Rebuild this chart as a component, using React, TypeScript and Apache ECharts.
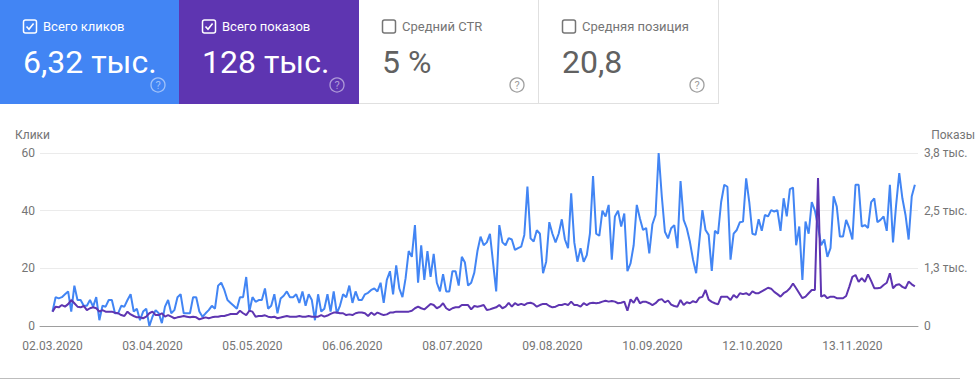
import React, { useEffect, useRef } from "react";
import * as echarts from "echarts";

const tickLabels = ["02.03.2020", "03.04.2020", "05.05.2020", "06.06.2020", "08.07.2020", "09.08.2020", "10.09.2020", "12.10.2020", "13.11.2020"];

// daily clicks from 02.03.2020
const clicks = [
  5, 10, 9.6, 10, 11, 12, 5, 14, 9, 9,
  7, 7, 9, 6.7, 10, 2, 7, 6.7, 9, 9,
  4.4, 4.4, 7, 6.7, 9, 11, 5, 6, 2, 5,
  6, 0, 3.2, 5.5, 4.4, 1, 6.7, 9, 4.4, 5.5,
  10, 11, 4.4, 4.4, 4.4, 10, 10, 5, 3.2, 4.4,
  5.5, 7, 6, 14, 15, 12.5, 9, 8, 7, 6,
  10, 10, 17, 5, 10, 8.4, 9, 9, 13, 6,
  7, 11, 4.4, 9.5, 10.5, 12, 10, 10, 11, 8,
  12, 7, 11, 9, 2, 11, 5, 6, 11, 5,
  12, 4.4, 7, 11, 10, 14, 8, 12, 9, 9,
  11, 11.5, 12.5, 13, 12, 15, 8, 16, 19, 11,
  21, 13, 10, 16.5, 26, 24, 35, 15, 28, 16,
  26, 17, 25, 15, 12, 18, 12, 12, 19, 19,
  14, 24, 22, 14, 15, 18.5, 26, 31, 28, 29,
  32, 22, 12, 35, 29, 28, 30.5, 30, 26.4, 27,
  27.5, 31.6, 48.4, 30.4, 29.3, 33.2, 32, 18.3, 22.3, 36,
  32, 29, 32, 37, 30, 27, 46, 29, 22.3, 27,
  22.3, 24.6, 32, 52, 32, 31.3, 40, 38, 42, 23,
  38, 40, 34.5, 39, 19, 21.7, 28, 42, 37.3, 33.3,
  34, 25.2, 35.3, 38.5, 60, 45, 32.7, 30.4, 33.9, 35,
  27, 50.3, 36.8, 33.9, 29.2, 23, 18.3, 29.2, 40.2, 33.3,
  31.6, 19.1, 33, 32, 43, 49, 48.3, 23, 32, 33.3,
  36, 36.2, 51.2, 43, 32, 31.6, 37, 33, 38.5, 38,
  40.2, 39.7, 40.2, 33, 44.3, 38, 47.5, 48, 28, 34.5,
  16, 36.2, 32, 43, 40, 34.5, 28, 30, 24, 27,
  45, 41.4, 31, 31, 36.8, 34, 30, 49, 49, 34.5,
  35, 34, 43, 44.3, 36, 36.8, 38, 33, 49, 29,
  42, 53, 44.3, 38.5, 30, 45, 49,
];

// daily impressions from 02.03.2020
const impressions = [
  315, 425, 410, 460, 425, 480, 570, 500, 425, 410,
  440, 350, 390, 410, 390, 315, 350, 315, 315, 315,
  290, 280, 240, 220, 315, 255, 220, 190, 190, 170,
  205, 280, 315, 240, 240, 280, 205, 240, 205, 170,
  190, 205, 220, 205, 190, 205, 190, 145, 170, 190,
  170, 190, 205, 205, 220, 220, 240, 265, 265, 265,
  335, 280, 240, 335, 315, 205, 220, 220, 235, 205,
  190, 205, 170, 185, 205, 220, 205, 205, 205, 220,
  205, 205, 220, 205, 205, 205, 240, 205, 230, 265,
  295, 295, 280, 280, 240, 255, 240, 280, 295, 295,
  280, 220, 295, 240, 295, 265, 240, 255, 295, 295,
  315, 315, 315, 315, 315, 335, 390, 425, 390, 365,
  425, 485, 460, 390, 425, 500, 390, 350, 390, 410,
  410, 460, 460, 460, 365, 440, 425, 440, 460, 350,
  365, 390, 410, 460, 390, 425, 510, 425, 500, 460,
  485, 460, 500, 510, 485, 425, 460, 485, 485, 440,
  410, 425, 460, 460, 485, 460, 535, 460, 460, 425,
  500, 460, 500, 510, 500, 510, 535, 555, 535, 550,
  535, 500, 510, 535, 335, 585, 510, 630, 500, 535,
  530, 500, 460, 500, 570, 590, 520, 560, 470, 440,
  425, 570, 460, 520, 500, 545, 520, 620, 640, 790,
  580, 530, 500, 475, 645, 645, 640, 570, 680, 620,
  720, 700, 720, 680, 760, 720, 720, 760, 800, 840,
  820, 750, 700, 645, 720, 760, 830, 935, 830, 720,
  610, 645, 720, 790, 790, 3250, 645, 680, 610, 645,
  645, 610, 610, 610, 660, 860, 1080, 1120, 970, 1050,
  970, 1135, 990, 830, 830, 840, 900, 950, 1160, 830,
  900, 915, 860, 830, 975, 915, 870,
];

const cardTitles = ["Всего кликов", "Всего показов", "Средний CTR", "Средняя позиция"];
const cardValues = ["6,32 тыс.", "128 тыс.", "5 %", "20,8"];
const cardChecked = [true, true, false, false];
const cardColors = ["#4285f4", "#5e35b1", "#ffffff", "#ffffff"];

const leftAxisName = "Клики";
const rightAxisName = "Показы";

const LEAD_PAD = 4; // days before 02.03.2020 on the axis
const TRAIL_PAD = 1;

function pad2(n: number) {
  return n < 10 ? "0" + n : String(n);
}

function buildDates(count: number): string[] {
  const base = Date.UTC(2020, 2, 2) - LEAD_PAD * 86400000;
  const out: string[] = [];
  for (let i = 0; i < count; i++) {
    const d = new Date(base + i * 86400000);
    out.push(pad2(d.getUTCDate()) + "." + pad2(d.getUTCMonth() + 1) + "." + d.getUTCFullYear());
  }
  return out;
}

function fmtThousands(v: number) {
  if (v === 0) return "0";
  return (v / 1000).toFixed(1).replace(".", ",") + " тыс.";
}

const FONT = "Roboto, 'Noto Sans', sans-serif";

function buildCards(): any[] {
  const els: any[] = [];
  const xs = [0, 179, 359, 539];
  const widths = [179, 180, 180, 180];
  cardTitles.forEach((title, i) => {
    const x0 = xs[i];
    const colored = cardColors[i] !== "#ffffff";
    els.push({
      type: "rect",
      shape: { x: x0, y: 0, width: widths[i], height: 104 },
      style: { fill: cardColors[i] },
      silent: true,
    });
    const ink = colored ? "#ffffff" : "#757575";
    els.push({
      type: "rect",
      shape: { x: x0 + 23.5, y: 20, width: 13, height: 13, r: 2 },
      style: { fill: "none", stroke: ink, lineWidth: 1.5 },
      silent: true,
    });
    if (cardChecked[i]) {
      els.push({
        type: "polyline",
        shape: { points: [[x0 + 26.5, 26.5], [x0 + 29, 29.2], [x0 + 33.6, 23.6]] },
        style: { fill: "none", stroke: ink, lineWidth: 1.6 },
        silent: true,
      });
    }
    els.push({
      type: "text",
      x: x0 + 43,
      y: 26.5,
      style: {
        text: title,
        fill: ink,
        fontSize: 13,
        fontFamily: FONT,
        align: "left",
        verticalAlign: "middle",
        textAlign: "left",
        textVerticalAlign: "middle",
      },
      silent: true,
    });
    els.push({
      type: "text",
      x: x0 + 23,
      y: 62,
      style: {
        text: cardValues[i],
        fill: colored ? "#ffffff" : "#616161",
        fontSize: 32,
        fontFamily: FONT,
        align: "left",
        verticalAlign: "middle",
        textAlign: "left",
        textVerticalAlign: "middle",
      },
      silent: true,
    });
    const qColor = colored ? "rgba(255,255,255,0.5)" : "#9e9e9e";
    els.push({
      type: "circle",
      shape: { cx: x0 + 158, cy: 85, r: 7 },
      style: { fill: "none", stroke: qColor, lineWidth: 1.3 },
      silent: true,
    });
    els.push({
      type: "text",
      x: x0 + 158,
      y: 85.5,
      style: {
        text: "?",
        fill: qColor,
        fontSize: 11,
        fontFamily: FONT,
        align: "center",
        verticalAlign: "middle",
        textAlign: "center",
        textVerticalAlign: "middle",
      },
      silent: true,
    });
  });
  els.push({ type: "line", shape: { x1: 538.5, y1: 0, x2: 538.5, y2: 104 }, style: { stroke: "#e0e0e0", lineWidth: 1 }, silent: true });
  els.push({ type: "line", shape: { x1: 718.5, y1: 0, x2: 718.5, y2: 104 }, style: { stroke: "#e0e0e0", lineWidth: 1 }, silent: true });
  els.push({ type: "line", shape: { x1: 359, y1: 103.5, x2: 719, y2: 103.5 }, style: { stroke: "#e0e0e0", lineWidth: 1 }, silent: true });
  els.push({
    type: "text",
    x: 15,
    y: 135,
    style: { text: leftAxisName, fill: "#757575", fontSize: 12, fontFamily: FONT, align: "left", verticalAlign: "middle", textAlign: "left", textVerticalAlign: "middle" },
    silent: true,
  });
  els.push({
    type: "text",
    x: 975,
    y: 135,
    style: { text: rightAxisName, fill: "#757575", fontSize: 12, fontFamily: FONT, align: "right", verticalAlign: "middle", textAlign: "right", textVerticalAlign: "middle" },
    silent: true,
  });
  els.push({ type: "line", shape: { x1: 0, y1: 378.5, x2: 960, y2: 378.5 }, style: { stroke: "#bdbdbd", lineWidth: 1 }, silent: true });
  return els;
}

export default function App() {
  const ref = useRef<HTMLDivElement>(null);

  useEffect(() => {
    if (!ref.current) return;
    const chart = echarts.init(ref.current, undefined, { renderer: "svg" });
    const total = LEAD_PAD + clicks.length + TRAIL_PAD;
    const dates = buildDates(total);
    const padL = new Array(LEAD_PAD).fill("-");
    const padR = new Array(TRAIL_PAD).fill("-");
    const clickData = [...padL, ...clicks, ...padR];
    const impData = [...padL, ...impressions, ...padR];

    chart.setOption({
      animation: false,
      backgroundColor: "#ffffff",
      textStyle: { fontFamily: FONT },
      grid: { left: 40, right: 62, top: 153, bottom: 54, containLabel: false },
      xAxis: {
        type: "category",
        data: dates,
        boundaryGap: false,
        axisLine: { show: true, lineStyle: { color: "#9e9e9e", width: 1 } },
        axisTick: { show: false },
        splitLine: { show: false },
        axisLabel: {
          interval: (_idx: number, val: string) => tickLabels.includes(val),
          color: "#757575",
          fontSize: 12,
          fontFamily: FONT,
          margin: 14,
          hideOverlap: false,
        },
      },
      yAxis: [
        {
          type: "value",
          min: 0,
          max: 60,
          interval: 20,
          axisLine: { show: false },
          axisTick: { show: false },
          splitLine: { show: true, lineStyle: { color: "#ebebeb", width: 1 } },
          axisLabel: { color: "#757575", fontSize: 12, fontFamily: FONT, margin: 5 },
        },
        {
          type: "value",
          min: 0,
          max: 3800,
          interval: 3800 / 3,
          position: "right",
          axisLine: { show: false },
          axisTick: { show: false },
          splitLine: { show: false },
          axisLabel: { color: "#757575", fontSize: 12, fontFamily: FONT, margin: 6, formatter: fmtThousands },
        },
      ],
      series: [
        {
          name: "Клики",
          type: "line",
          data: clickData,
          yAxisIndex: 0,
          symbol: "none",
          lineStyle: { color: "#4285f4", width: 2 },
          itemStyle: { color: "#4285f4" },
          z: 2,
        },
        {
          name: "Показы",
          type: "line",
          data: impData,
          yAxisIndex: 1,
          symbol: "none",
          lineStyle: { color: "#5e35b1", width: 2 },
          itemStyle: { color: "#5e35b1" },
          z: 3,
        },
      ],
      graphic: { elements: buildCards() },
    });

    return () => chart.dispose();
  }, []);

  return (
    <div
      ref={ref}
      style={{ position: "absolute", left: 0, top: 0, width: 980, height: 380 }}
    />
  );
}
